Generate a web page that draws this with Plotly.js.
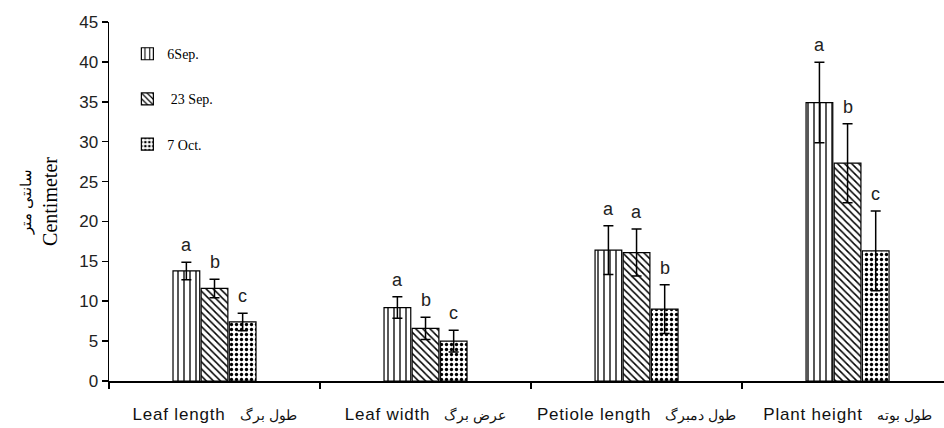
<!DOCTYPE html>
<html>
<head>
<meta charset="utf-8">
<script src="https://cdn.plot.ly/plotly-3.0.1.min.js"></script>
<style>html,body{margin:0;padding:0;background:#fff;}#chart{width:944px;height:428px;}</style>
</head>
<body>
<div id="chart"></div>
<script>
// ---- data ----
const categories = ["Leaf length", "Leaf width", "Petiole length", "Plant height"];
const categoriesFa = ["طول برگ", "عرض برگ", "طول دمبرگ", "طول بوته"];
const seriesNames = ["6Sep.", " 23 Sep.", "7 Oct."];
const sep6 = [13.8, 9.2, 16.4, 34.9];
const sep23 = [11.6, 6.6, 16.1, 27.3];
const oct7 = [7.4, 5.0, 9.0, 16.3];
const sep6Err = [1.1, 1.35, 3.05, 5.05];
const sep23Err = [1.15, 1.4, 2.95, 4.95];
const oct7Err = [1.1, 1.35, 3.05, 5.0];
const sep6Letters = ["a", "a", "a", "a"];
const sep23Letters = ["b", "b", "a", "b"];
const oct7Letters = ["c", "c", "b", "c"];
const yTicks = [0, 5, 10, 15, 20, 25, 30, 35, 40, 45];

const values = [sep6, sep23, oct7];
const errs = [sep6Err, sep23Err, oct7Err];
const letters = [sep6Letters, sep23Letters, oct7Letters];
const patterns = [
  {shape: "|", size: 6, solidity: 0.22, fgcolor: "#000", bgcolor: "#fff"},
  {shape: "\\", size: 5, solidity: 0.3, fgcolor: "#000", bgcolor: "#fff"},
  {shape: ".", size: 5, solidity: 0.35, fgcolor: "#000", bgcolor: "#fff"}
];

const traces = values.map((v, i) => ({
  type: "bar",
  name: seriesNames[i],
  legendgroup: "g" + i,
  x: categories,
  y: v,
  marker: {color: "#fff", line: {color: "#000", width: 1.2}, pattern: patterns[i]},
  error_y: {type: "data", array: errs[i], visible: true, color: "#000", thickness: 1.5, width: 5},
  offsetgroup: String(i)
}));

// letter annotations placed above error bars
const annotations = [];
const nS = values.length;
const groupW = 0.4;
values.forEach((v, i) => {
  v.forEach((val, j) => {
    const off = -groupW / 2 + groupW / nS * (i + 0.5);
    annotations.push({
      x: j + off, xref: "x", y: val + errs[i][j], yref: "y",
      text: letters[i][j], showarrow: false, yanchor: "bottom", yshift: 5,
      font: {family: "Arial, Liberation Sans", size: 18, color: "#222"}
    });
  });
});

const tickText = categories.map((c, j) =>
  '<span style="letter-spacing:0.8px">' + c + '</span>   <span style="font-size:14px">' + categoriesFa[j] + '</span>');

const layout = {
  width: 944, height: 428,
  margin: {l: 109, r: 0, t: 22, b: 47},
  paper_bgcolor: "#fff", plot_bgcolor: "#fff",
  barmode: "group", bargap: 0.6, bargroupgap: 0.05,
  showlegend: true,
  legend: {
    x: 0.022, y: 0.955, xanchor: "left", yanchor: "top",
    bgcolor: "rgba(0,0,0,0)", traceorder: "grouped", tracegroupgap: 24,
    font: {family: "Liberation Serif, Times New Roman", size: 14, color: "#000"},
    itemwidth: 30
  },
  xaxis: {
    type: "category", range: [-0.5, 3.457],
    tickmode: "array", tickvals: categories, ticktext: tickText,
    tickson: "boundaries", ticks: "outside", ticklen: 6, tickcolor: "#000", tickwidth: 1.5,
    showline: true, linecolor: "#000", linewidth: 1.5,
    showgrid: false, zeroline: false,
    ticklabelstandoff: 17,
    tickfont: {family: "Arial, Liberation Sans", size: 17, color: "#111"}
  },
  yaxis: {
    range: [0, 45], tickmode: "array", tickvals: yTicks,
    ticks: "outside", ticklen: 6, tickcolor: "#000", tickwidth: 1.5,
    showline: true, linecolor: "#000", linewidth: 1.5,
    showgrid: false, zeroline: false,
    tickfont: {family: "Arial, Liberation Sans", size: 17, color: "#222"},
    title: {
      text: '<span style="font-size:15px">سانتی متر</span><br>Centimeter',
      font: {family: "Liberation Serif, Times New Roman", size: 20, color: "#000"},
      standoff: 16
    }
  },
  annotations: annotations
};

Plotly.newPlot("chart", traces, layout, {displayModeBar: false, staticPlot: true});
</script>
</body>
</html>
